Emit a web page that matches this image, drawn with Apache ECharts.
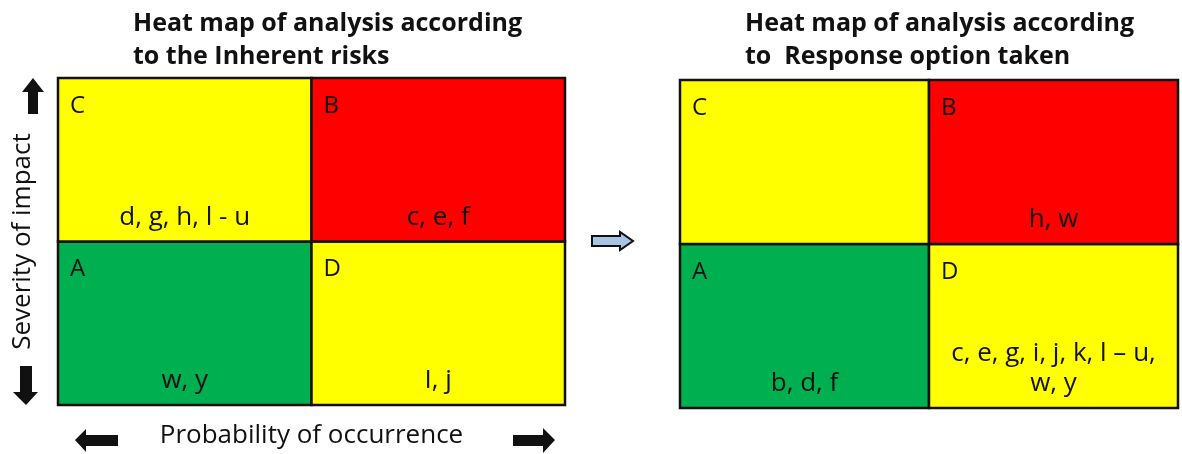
<!DOCTYPE html>
<html>
<head>
<meta charset="utf-8">
<script src="https://cdn.jsdelivr.net/npm/echarts@6/dist/echarts.min.js"></script>
<style>
  html, body { margin: 0; padding: 0; background: #fff; }
  #chart { width: 1182px; height: 454px; }
</style>
</head>
<body>
<div id="chart"></div>
<script>
// axes: probability (x) and severity (y), low -> high
const probCats = ['Low', 'High']
const sevCats = ['Low', 'High']

// quadrants: [probability index, severity index]
const cellPos = [[0, 0], [1, 0], [0, 1], [1, 1]]
const cellLetters = ['A', 'D', 'C', 'B']
const cellColors = ['#00b050', '#ffff00', '#ffff00', '#ff0000']

// risks in each quadrant
const inherentRisks = ['w, y', 'I, j', 'd, g, h, l - u', 'c, e, f']
const responseRisks = ['b, d, f', 'c, e, g, i, j, k, l – u,\nw, y', '', 'h, w']

const titles = [
  'Heat map of analysis according\nto the Inherent risks',
  'Heat map of analysis according\nto  Response option taken'
]

const FONT = 'Open Sans'

const chart = echarts.init(document.getElementById('chart'))

const makeRender = (texts) => (params, api) => {
  const c = api.coord([api.value(0), api.value(1)])
  const s = api.size([1, 1])
  const x = c[0] - s[0] / 2
  const y = c[1] - s[1] / 2
  const i = params.dataIndex
  return {
    type: 'group',
    children: [
      {
        type: 'rect',
        shape: { x: x, y: y, width: s[0], height: s[1] },
        style: { fill: cellColors[i], stroke: '#111', lineWidth: 2.5 }
      },
      {
        type: 'text',
        x: x + 12, y: y + 16,
        style: { text: cellLetters[i], fill: '#111', font: '24px ' + FONT }
      },
      {
        type: 'text',
        x: x + s[0] / 2, y: y + s[1] - 9,
        style: {
          text: texts[i], fill: '#111', font: '26px ' + FONT,
          align: 'center', verticalAlign: 'bottom', lineHeight: 30
        }
      }
    ]
  }
}

const hiddenAxis = {
  axisLine: { show: false },
  axisTick: { show: false },
  axisLabel: { show: false },
  splitLine: { show: false }
}

const arrow = (pts, fill) => ({
  type: 'polygon',
  shape: { points: pts },
  style: { fill: fill || '#111', stroke: '#111', lineWidth: fill ? 2 : 0 }
})

const option = {
  animation: false,
  textStyle: { fontFamily: FONT },
  title: [
    {
      text: titles[0], left: 128, top: 2,
      textStyle: { fontFamily: FONT, fontSize: 25, fontWeight: 'bold', color: '#111', lineHeight: 33 }
    },
    {
      text: titles[1], left: 740, top: 2,
      textStyle: { fontFamily: FONT, fontSize: 25, fontWeight: 'bold', color: '#111', lineHeight: 33 }
    }
  ],
  grid: [
    { left: 58, top: 78, width: 507, height: 327, outerBoundsMode: 'none', containLabel: false },
    { left: 680, top: 80, width: 498, height: 328, outerBoundsMode: 'none', containLabel: false }
  ],
  xAxis: [
    {
      ...hiddenAxis, type: 'category', data: probCats, gridIndex: 0,
      name: 'Probability of occurrence', nameLocation: 'middle', nameGap: 18,
      nameTextStyle: { fontFamily: FONT, fontSize: 26, color: '#111' }
    },
    { ...hiddenAxis, type: 'category', data: probCats, gridIndex: 1 }
  ],
  yAxis: [
    {
      ...hiddenAxis, type: 'category', data: sevCats, gridIndex: 0,
      name: 'Severity of impact', nameLocation: 'middle', nameGap: 22, nameRotate: 90,
      nameTextStyle: { fontFamily: FONT, fontSize: 26, color: '#111' }
    },
    { ...hiddenAxis, type: 'category', data: sevCats, gridIndex: 1 }
  ],
  series: [
    {
      type: 'custom', xAxisIndex: 0, yAxisIndex: 0,
      renderItem: makeRender(inherentRisks),
      data: cellPos
    },
    {
      type: 'custom', xAxisIndex: 1, yAxisIndex: 1,
      renderItem: makeRender(responseRisks),
      data: cellPos
    }
  ],
  graphic: [
    // up arrow
    arrow([[33, 78], [44, 92], [38, 92], [38, 114], [28, 114], [28, 92], [22, 92]]),
    // down arrow
    arrow([[26, 405], [38, 392], [32, 392], [32, 366], [20, 366], [20, 392], [13, 392]]),
    // left arrow
    arrow([[75, 440], [86, 429], [86, 435], [118, 435], [118, 446], [86, 446], [86, 452]]),
    // right arrow
    arrow([[555, 440], [543, 428], [543, 435], [513, 435], [513, 446], [543, 446], [543, 453]]),
    // transition arrow
    arrow([[592, 236], [620, 236], [620, 232], [633, 241], [620, 250], [620, 246], [592, 246]], '#a9c3e6')
  ]
}

chart.setOption(option)
</script>
</body>
</html>
